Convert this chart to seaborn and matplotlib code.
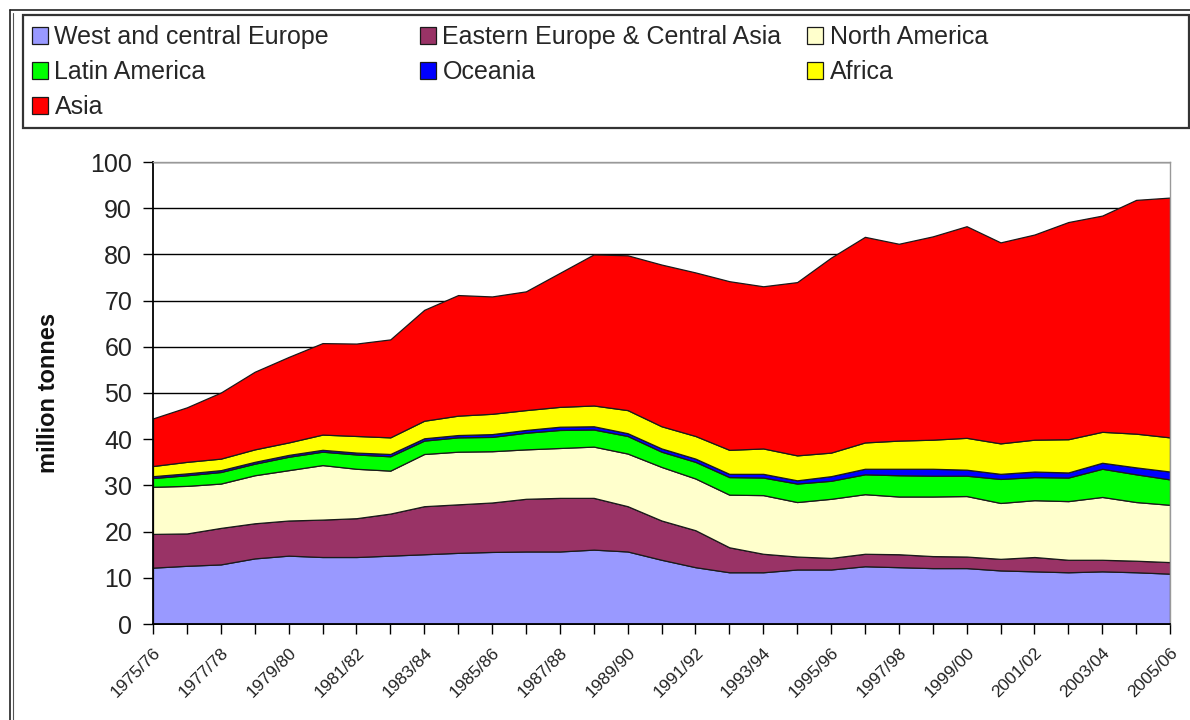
import numpy as np
import matplotlib
matplotlib.use("Agg")
import matplotlib.pyplot as plt
from matplotlib.patches import Rectangle
from matplotlib.lines import Line2D
import seaborn as sns

# season labels, one point per season
seasons = ['1975/76', '1976/77', '1977/78', '1978/79', '1979/80', '1980/81',
           '1981/82', '1982/83', '1983/84', '1984/85', '1985/86', '1986/87',
           '1987/88', '1988/89', '1989/90', '1990/91', '1991/92', '1992/93',
           '1993/94', '1994/95', '1995/96', '1996/97', '1997/98', '1998/99',
           '1999/00', '2000/01', '2001/02', '2002/03', '2003/04', '2004/05',
           '2005/06']

# million tonnes per region
west_central_europe = [12.2, 12.6, 12.9, 14.2, 14.8, 14.5, 14.5, 14.8, 15.1, 15.4,
                       15.6, 15.7, 15.7, 16.1, 15.7, 13.9, 12.3, 11.2, 11.2, 11.8,
                       11.8, 12.5, 12.3, 12.1, 12.1, 11.6, 11.4, 11.2, 11.4, 11.2, 10.9]
eastern_europe_central_asia = [7.3, 7.0, 7.9, 7.6, 7.6, 8.1, 8.4, 9.1, 10.4, 10.5,
                               10.7, 11.4, 11.6, 11.2, 9.8, 8.5, 8.0, 5.4, 4.0, 2.8,
                               2.5, 2.7, 2.8, 2.6, 2.5, 2.5, 3.1, 2.7, 2.5, 2.5, 2.5]
north_america = [10.2, 10.3, 9.6, 10.4, 10.9, 11.8, 10.7, 9.3, 11.3, 11.4,
                 11.1, 10.7, 10.8, 11.1, 11.4, 11.6, 11.2, 11.4, 12.7, 11.8,
                 12.8, 12.9, 12.5, 12.9, 13.1, 12.1, 12.3, 12.7, 13.6, 12.7, 12.4]
latin_america = [1.9, 2.3, 2.5, 2.5, 2.9, 2.9, 3.1, 3.1, 2.9, 3.1,
                 3.1, 3.6, 3.9, 3.7, 3.8, 3.3, 3.6, 3.8, 3.8, 4.0,
                 3.9, 4.3, 4.6, 4.5, 4.4, 5.2, 5.0, 5.1, 6.1, 6.0, 5.5]
oceania = [0.4, 0.4, 0.4, 0.4, 0.4, 0.4, 0.4, 0.5, 0.5, 0.5,
           0.6, 0.6, 0.7, 0.7, 0.6, 0.7, 0.7, 0.7, 0.8, 0.7,
           1.0, 1.2, 1.4, 1.5, 1.3, 1.1, 1.2, 1.1, 1.3, 1.5, 1.7]
africa = [2.2, 2.5, 2.5, 2.7, 2.7, 3.3, 3.6, 3.6, 3.8, 4.2,
          4.4, 4.3, 4.3, 4.5, 5.0, 4.8, 4.9, 5.2, 5.5, 5.4,
          5.1, 5.7, 6.1, 6.3, 6.9, 6.6, 6.9, 7.2, 6.7, 7.3, 7.4]
asia = [10.3, 11.8, 14.3, 16.8, 18.5, 19.8, 20.0, 21.2, 24.0, 26.1,
        25.4, 25.7, 29.0, 32.7, 33.5, 35.0, 35.4, 36.5, 35.1, 37.5,
        42.2, 44.5, 42.6, 44.0, 45.8, 43.5, 44.4, 47.0, 46.8, 50.6, 51.9]

region_names = ['West and central Europe', 'Eastern Europe & Central Asia',
                'North America', 'Latin America', 'Oceania', 'Africa', 'Asia']
region_colors = ['#9999FF', '#993366', '#FFFFCC', '#00FF00', '#0000FF',
                 '#FFFF00', '#FF0000']
y_ticks = [0, 10, 20, 30, 40, 50, 60, 70, 80, 90, 100]

W, H = 1190, 720


def fx(px):
    return px / W


def fy(py):
    return 1 - py / H


sns.set_theme(style="white")
plt.rcParams['font.family'] = ['Liberation Sans', 'DejaVu Sans']

fig = plt.figure(figsize=(W / 100, H / 100), dpi=100)
fig.patch.set_facecolor('white')

# outer frame and the legend box around the chart
fig.add_artist(Line2D([fx(10), fx(10)], [fy(10), 0], transform=fig.transFigure,
                      color='#222222', lw=1.2))
fig.add_artist(Line2D([fx(13), fx(13)], [fy(13), 0], transform=fig.transFigure,
                      color='#555555', lw=0.8))
fig.add_artist(Line2D([fx(10), 1], [fy(10), fy(10)], transform=fig.transFigure,
                      color='#222222', lw=1.2))
fig.add_artist(Rectangle((fx(23), fy(128)), fx(1189) - fx(23), fy(15) - fy(128),
                         transform=fig.transFigure, fill=False,
                         edgecolor='#333333', lw=1.6))

ax = fig.add_axes([fx(153), fy(624), fx(1170) - fx(153), fy(162) - fy(624)])
x = np.arange(len(seasons))
polys = ax.stackplot(x, west_central_europe, eastern_europe_central_asia,
                     north_america, latin_america, oceania, africa, asia,
                     colors=region_colors, labels=region_names,
                     edgecolor='#1a1a1a', linewidth=0.9)

ax.set_xlim(0, len(seasons) - 1)
ax.set_ylim(0, 100)
ax.set_yticks(y_ticks)
ax.set_yticklabels([str(v) for v in y_ticks], fontsize=18, color='#222222')
ax.set_xticks(x)
ax.set_xticklabels([s if i % 2 == 0 else '' for i, s in enumerate(seasons)],
                   rotation=45, ha='right', rotation_mode='anchor',
                   fontsize=12.5, color='#222222')
ax.tick_params(axis='both', bottom=True, left=True, direction='out',
               length=7, width=1, color='black')
ax.tick_params(axis='y', pad=8)
ax.tick_params(axis='x', pad=8)

ax.yaxis.grid(True, color='black', lw=1)
ax.xaxis.grid(False)
ax.set_axisbelow(True)
for side in ['left', 'bottom']:
    ax.spines[side].set_color('black')
    ax.spines[side].set_linewidth(1.3)
for side in ['top', 'right']:
    ax.spines[side].set_color('#999999')
    ax.spines[side].set_linewidth(1)

fig.text(fx(49), fy(393), 'million tonnes', rotation=90, ha='center',
         va='center', fontsize=17, fontweight='bold', color='#111111')

# legend laid out in three columns like the original
columns = [[0, 3, 6], [1, 4], [2, 5]]
col_x = [32, 420, 807]
for idx, cx in zip(columns, col_x):
    fig.legend([polys[i] for i in idx], [region_names[i] for i in idx],
               loc='upper left', bbox_to_anchor=(fx(cx), fy(25)),
               frameon=False, fontsize=18, borderpad=0, borderaxespad=0,
               handlelength=0.65, handleheight=0.65, handletextpad=0.25,
               labelspacing=0.45)

fig.savefig('out.png', dpi=100, facecolor='white')
